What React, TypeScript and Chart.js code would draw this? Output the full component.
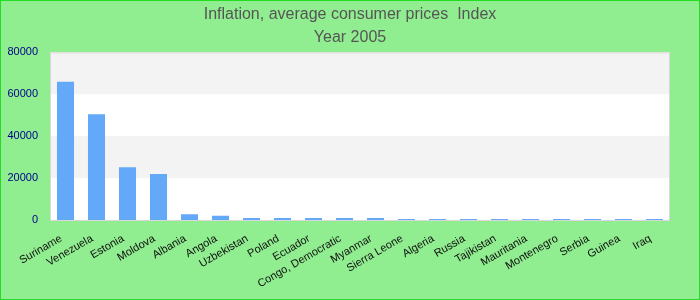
import React, { useEffect, useRef } from "react";
import { Chart, registerables } from "chart.js";

Chart.register(...registerables);

const categories = [
  "Suriname", "Venezuela", "Estonia", "Moldova", "Albania", "Angola", "Uzbekistan",
  "Poland", "Ecuador", "Congo, Democratic", "Myanmar", "Sierra Leone", "Algeria",
  "Russia", "Tajikistan", "Mauritania", "Montenegro", "Serbia", "Guinea", "Iraq",
];
const values = [
  66000, 50500, 25200, 22000, 2700, 2000, 1000, 1000, 1000, 1000, 1000, 450, 450,
  450, 450, 450, 450, 450, 450, 450,
];
const yTicks = [0, 20000, 40000, 60000, 80000];
const titleLines = ["Inflation, average consumer prices  Index", "Year 2005"];

const bandsPlugin = {
  id: "bands",
  afterLayout(chart: any) {
    if (chart.titleBlock) {
      chart.titleBlock.left = 0;
      chart.titleBlock.right = chart.width;
      chart.titleBlock.width = chart.width;
    }
  },
  beforeDatasetsDraw(chart: any) {
    const { ctx, chartArea, scales } = chart;
    const y = scales.y;
    ctx.save();
    ctx.fillStyle = "#ffffff";
    ctx.fillRect(chartArea.left, chartArea.top, chartArea.right - chartArea.left, chartArea.bottom - chartArea.top);
    for (let i = 0; i < yTicks.length - 1; i++) {
      if (i % 2 === 1) {
        const top = y.getPixelForValue(yTicks[i + 1]);
        const bot = y.getPixelForValue(yTicks[i]);
        ctx.fillStyle = "#f3f3f3";
        ctx.fillRect(chartArea.left, top, chartArea.right - chartArea.left, bot - top);
      }
    }
    ctx.restore();
  },
  afterDatasetsDraw(chart: any) {
    const { ctx, chartArea } = chart;
    ctx.save();
    ctx.strokeStyle = "#d8d8d8";
    ctx.lineWidth = 1;
    ctx.strokeRect(chartArea.left + 0.5, chartArea.top + 0.5, chartArea.right - chartArea.left - 1, chartArea.bottom - chartArea.top);
    ctx.restore();
  },
};

const xLabelsPlugin = {
  id: "xLabels",
  afterDraw(chart: any) {
    const { ctx, chartArea, scales } = chart;
    const x = scales.x;
    ctx.save();
    ctx.fillStyle = "#111111";
    ctx.font = "11px 'Liberation Sans'";
    ctx.textAlign = "right";
    ctx.textBaseline = "top";
    categories.forEach((label, i) => {
      const px = x.getPixelForTick(i);
      ctx.save();
      ctx.translate(px - 7, chartArea.bottom + 13);
      ctx.rotate((-30 * Math.PI) / 180);
      ctx.fillText(label, 0, 0);
      ctx.restore();
    });
    ctx.restore();
  },
};

export default function App() {
  const ref = useRef<HTMLCanvasElement>(null);
  useEffect(() => {
    document.body.style.margin = "0";
    const chart = new Chart(ref.current!, {
      type: "bar",
      data: {
        labels: categories,
        datasets: [
          {
            data: values,
            backgroundColor: "#63a9f7",
            barPercentage: 0.55,
            categoryPercentage: 1,
          },
        ],
      },
      options: {
        animation: false,
        responsive: false,
        maintainAspectRatio: false,
        layout: { padding: { left: 6, right: 29, top: 0, bottom: 0 } },
        plugins: {
          legend: { display: false },
          tooltip: { enabled: false },
          title: {
            display: true,
            text: titleLines,
            color: "#555555",
            font: { family: "Liberation Sans", size: 16, weight: "normal", lineHeight: 1.45 },
            padding: { top: 2, bottom: 3 },
          },
        },
        scales: {
          x: {
            grid: { display: false, drawTicks: false },
            border: { display: false },
            ticks: { display: false },
            afterFit: (scale: any) => {
              scale.height = 79;
            },
          },
          y: {
            min: 0,
            max: 80000,
            grid: { display: false, drawTicks: false },
            border: { display: false },
            afterFit: (scale: any) => {
              scale.width = 43;
            },
            ticks: {
              stepSize: 20000,
              color: "#000088",
              font: { family: "Liberation Sans", size: 11 },
              padding: 12,
              callback: (v: any) => String(v),
            },
          },
        },
      },
      plugins: [bandsPlugin, xLabelsPlugin],
    });
    return () => chart.destroy();
  }, []);
  return (
    <div
      style={{
        width: 700,
        height: 300,
        boxSizing: "border-box",
        border: "1px solid #22dd22",
        background: "#90ee90",
      }}
    >
      <canvas ref={ref} width={698} height={298} style={{ display: "block" }} />
    </div>
  );
}
